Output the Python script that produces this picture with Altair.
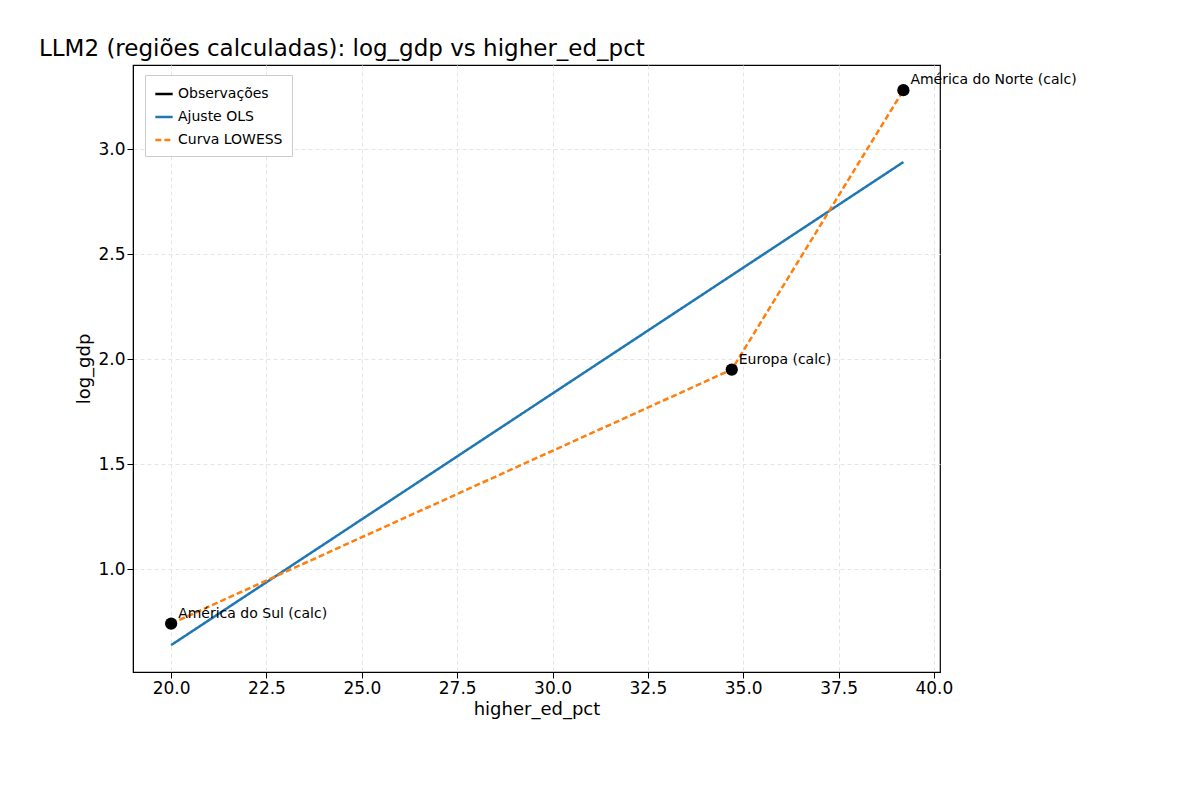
import altair as alt
import pandas as pd

px = [20.0, 34.7, 39.2]
py = [0.74, 1.95, 3.28]
names = ["América do Sul (calc)", "Europa (calc)", "América do Norte (calc)"]
ols_x = [20.0, 39.2]
ols_y = [0.638, 2.938]
series = ["Observações", "Ajuste OLS", "Curva LOWESS"]
colors = ["black", "#1f77b4", "#ff7f0e"]
dashes = [[1, 0], [1, 0], [6, 3]]

pts = pd.DataFrame({"x": px, "y": py, "name": names, "s": series[0]})
ols = pd.DataFrame({"x": ols_x, "y": ols_y, "s": series[1]})
low = pd.DataFrame({"x": px, "y": py, "s": series[2]})

xs = alt.Scale(domain=[19.0, 40.16], nice=False, zero=False)
ys = alt.Scale(domain=[0.51, 3.40], nice=False, zero=False)
col = alt.Color("s:N", scale=alt.Scale(domain=series, range=colors),
                legend=alt.Legend(title=None, orient="none", legendX=12, legendY=10,
                                  fillColor="white", strokeColor="#ccc", padding=9,
                                  labelFontSize=14, rowPadding=6, symbolSize=300,
                                  symbolType="stroke", symbolStrokeWidth=2.5))
dash = alt.StrokeDash("s:N", scale=alt.Scale(domain=series, range=dashes), legend=None)
ax = dict(grid=True, gridDash=[4, 3], gridColor="#e5e5e5", labelFontSize=17,
          titleFontSize=18, titleFontWeight="normal", tickColor="black", tickSize=6,
          domainColor="black", labelColor="black", titleColor="black", format=".1f")
X = alt.X("x:Q", scale=xs, title="higher_ed_pct",
          axis=alt.Axis(values=[20, 22.5, 25, 27.5, 30, 32.5, 35, 37.5, 40], **ax))
Y = alt.Y("y:Q", scale=ys, title="log_gdp",
          axis=alt.Axis(values=[1.0, 1.5, 2.0, 2.5, 3.0], **ax))

l_ols = alt.Chart(ols).mark_line(strokeWidth=2.5).encode(x=X, y=Y, color=col, strokeDash=dash)
l_low = alt.Chart(low).mark_line(strokeWidth=2.5).encode(x=X, y=Y, color=col, strokeDash=dash)
p = alt.Chart(pts).mark_circle(size=150, opacity=1).encode(x=X, y=Y, color=col)
t = alt.Chart(pts).mark_text(align="left", baseline="bottom", dx=7, dy=-3, fontSize=14).encode(
    x=X, y=Y, text="name:N")

chart = alt.layer(l_ols, l_low, p, t).properties(
    width=807, height=607,
    title=alt.TitleParams("LLM2 (regiões calculadas): log_gdp vs higher_ed_pct",
                          fontSize=23, fontWeight="normal", anchor="start", dx=-37, color="black"),
    padding={"left": 30, "top": 30, "right": 20, "bottom": 10},
).configure(font="DejaVu Sans", view=alt.ViewConfig(stroke="black", strokeWidth=1.2))

chart.save("out.html", embed_options={"renderer": "svg", "actions": False})
